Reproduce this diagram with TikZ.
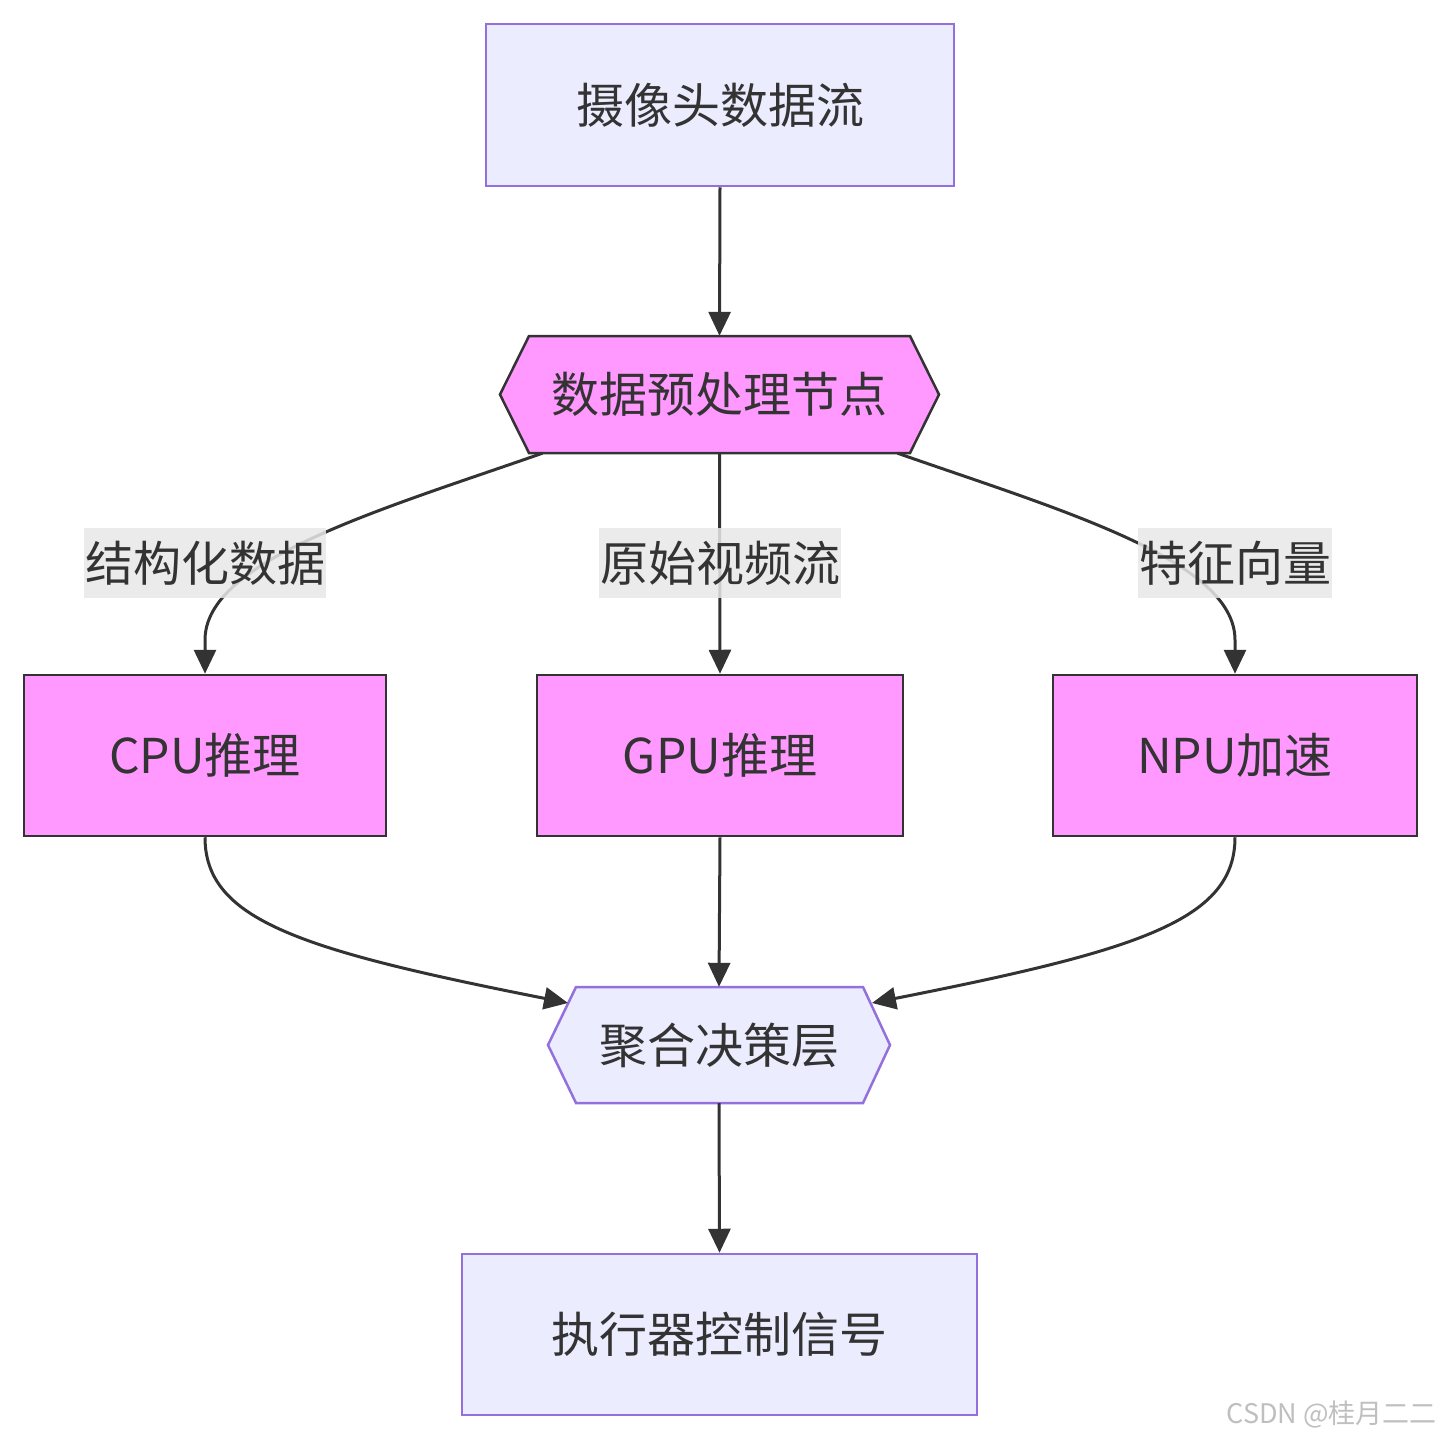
\documentclass[tikz,border=0pt]{standalone}
\usepackage{fontspec}
\setmainfont{Noto Sans CJK SC}
\newfontfamily\wmfont{Noto Sans CJK SC}
\usetikzlibrary{arrows.meta,calc}
\definecolor{lav}{HTML}{ECECFF}
\definecolor{lavline}{HTML}{9370DB}
\definecolor{pinkfill}{HTML}{FF99FF}
\definecolor{dark}{HTML}{333333}
\definecolor{lblbg}{HTML}{E8E8E8}
\tikzset{
  txt/.style={font=\fontsize{48}{57}\selectfont, text=dark, inner sep=0pt},
  lavbox/.style={txt, draw=lavline, fill=lav, line width=2.5pt},
  pinkbox/.style={txt, draw=dark, fill=pinkfill, line width=2.5pt},
  lavhex/.style={draw=lavline, fill=lav, line width=2.5pt, line join=miter},
  pinkhex/.style={draw=dark, fill=pinkfill, line width=2.5pt, line join=miter},
  conn/.style={draw=dark, line width=3pt, -{Triangle[length=24pt,width=22pt]}},
  lbl/.style={txt, fill=lblbg, fill opacity=0.85, text opacity=1, inner xsep=1pt, inner ysep=13pt}
}
\begin{document}
\begin{tikzpicture}[x=1pt,y=-1pt]
\path[use as bounding box] (0,0) rectangle (1441,1440);
% hexagon outlines
\path[pinkhex] (500,394.5) -- (529,336) -- (910,336) -- (939,394.5) -- (910,453) -- (529,453) -- cycle;
\path[lavhex] (548,1045) -- (576,987) -- (863,987) -- (890,1045) -- (863,1103) -- (576,1103) -- cycle;
% nodes
\node[lavbox, minimum width=468pt, minimum height=162pt] (cam) at (720,105) {摄像头数据流};
\node[txt, minimum width=439pt, minimum height=117pt] (pre) at (719.5,394.5) {数据预处理节点};
\node[pinkbox, minimum width=362pt, minimum height=161pt] (cpu) at (205,755.5) {CPU推理};
\node[pinkbox, minimum width=366pt, minimum height=161pt] (gpu) at (720,755.5) {GPU推理};
\node[pinkbox, minimum width=364pt, minimum height=161pt] (npu) at (1235,755.5) {NPU加速};
\node[txt, minimum width=342pt, minimum height=116pt] (agg) at (719,1045) {聚合决策层};
\node[lavbox, minimum width=515pt, minimum height=161pt] (act) at (719.5,1334.5) {执行器控制信号};
% connector end points
\coordinate (preL) at ($(pre.south)+(-177,0)$);
\coordinate (preR) at ($(pre.south)+(178,0)$);
\coordinate (aggL) at (568,1003);
\coordinate (aggR) at (872,1003);
% connectors
\draw[conn] (cam.south) -- (pre.north);
\draw[conn] (preL) .. controls (380,510) and (205,560) .. (205,640) -- (cpu.north);
\draw[conn] (pre.south) -- (gpu.north);
\draw[conn] (preR) .. controls (1060,510) and (1235,560) .. (1235,640) -- (npu.north);
\draw[conn] (cpu.south) .. controls (205,920) and (300,950) .. (aggL);
\draw[conn] (gpu.south) -- (agg.north);
\draw[conn] (npu.south) .. controls (1235,920) and (1140,950) .. (aggR);
\draw[conn] (agg.south) -- (act.north);
% labels
\node[lbl] (l1) at (205,563) {结构化数据};
\node[lbl] (l2) at (720,563) {原始视频流};
\node[lbl] (l3) at (1235,563) {特征向量};
% watermark
\node[font=\wmfont\fontsize{27}{31}\selectfont, text=black!25, anchor=east, inner sep=0pt] (wm) at (1437,1414) {CSDN @桂月二二};
\end{tikzpicture}
\end{document}
